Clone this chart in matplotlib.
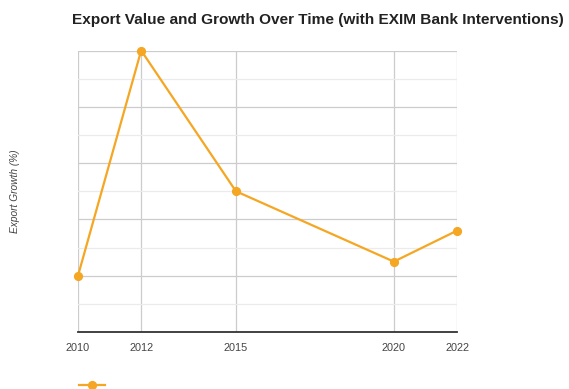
import matplotlib
matplotlib.use("Agg")
import matplotlib.pyplot as plt
from matplotlib.ticker import MultipleLocator

years = [2010, 2012, 2015, 2020, 2022]
export_growth = [2.0, 10.0, 5.0, 2.5, 3.6]

plt.rcParams['font.family'] = ['Liberation Sans', 'DejaVu Sans']

fig = plt.figure(figsize=(5.69, 3.89), dpi=100)
W, H = 569, 389
ax = fig.add_axes([78 / W, (H - 332) / H, (457 - 78) / W, (332 - 50.5) / H])

orange = '#f5a623'
line, = ax.plot(years, export_growth, color=orange, lw=1.6, marker='o',
                ms=5.6, mec=orange, mfc=orange, clip_on=False, zorder=5)

ax.set_xlim(2010, 2022)
ax.set_ylim(0, 10)
ax.set_xticks(years)
ax.set_xticklabels([str(y) for y in years])
ax.yaxis.set_major_locator(MultipleLocator(2))
ax.yaxis.set_minor_locator(MultipleLocator(1))
ax.tick_params(axis='y', which='both', left=False, labelleft=False)
ax.tick_params(axis='x', length=0, pad=8, labelsize=7.8, labelcolor='#444444')

ax.grid(True, which='major', axis='both', color='#cccccc', lw=0.9)
ax.grid(True, which='minor', axis='y', color='#ebebeb', lw=0.9)
ax.set_axisbelow(True)

for side in ('left', 'right', 'top'):
    ax.spines[side].set_visible(False)
ax.spines['bottom'].set_color('#333333')
ax.spines['bottom'].set_linewidth(1.3)
ax.spines['bottom'].set_zorder(4)

fig.text(15 / W, 1 - 191 / H, 'Export Growth (%)', rotation=90, style='italic',
         fontsize=7.3, color='#444444', ha='center', va='center')

fig.text(72 / W, 1 - 20 / H,
         'Export Value and Growth Over Time (with EXIM Bank Interventions)',
         fontsize=11.1, fontweight='bold', color='#222222', ha='left', va='center')

ax.legend([line], [''], loc='center left', frameon=False,
          bbox_to_anchor=(72 / W, 1 - 385.7 / H), bbox_transform=fig.transFigure,
          handlelength=1.9, borderpad=0, handletextpad=0)

fig.savefig('out.png', dpi=100)
